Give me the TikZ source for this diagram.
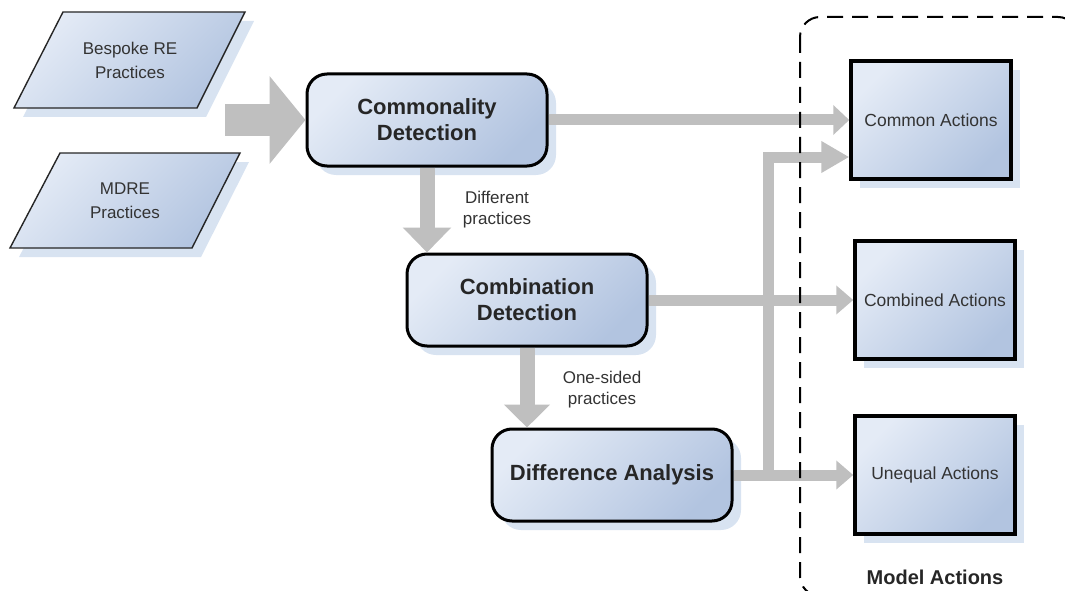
\documentclass[tikz,border=0pt]{standalone}
\usepackage{fontspec}
\setmainfont{Liberation Sans}
\usetikzlibrary{arrows.meta,shadows,calc}
\definecolor{boxlight}{HTML}{E4EBF6}
\definecolor{boxdark}{HTML}{B2C4E0}
\definecolor{shadowblue}{HTML}{D8E3F1}
\definecolor{flowgray}{HTML}{BFBFBF}
\begin{document}
\begin{tikzpicture}[x=1pt,y=-1pt,
  blueshade/.style={top color=boxlight, bottom color=boxdark, shading angle=45},
  softshadow/.style={drop shadow={shadow xshift=9pt, shadow yshift=-9pt, fill=shadowblue, opacity=1}},
  para/.style={draw=black!85, line width=1.4pt, blueshade, softshadow},
  paratext/.style={align=center, font=\fontsize{17}{24}\selectfont, text=black!80},
  proc/.style={draw=black, line width=3pt, rounded corners=20pt, blueshade, softshadow,
    minimum width=240pt, minimum height=92pt, align=center,
    font=\fontsize{22}{26}\selectfont\bfseries, text=black!85},
  actbox/.style={draw=black, line width=3.5pt, blueshade, softshadow,
    minimum width=160pt, minimum height=118pt, align=center,
    font=\fontsize{17.5}{21}\selectfont, text=black!80},
  lbl/.style={align=center, font=\fontsize{17}{21}\selectfont, text=black!80},
  flow/.style={draw=flowgray, line width=11pt},
  groupline/.style={draw=black, line width=2pt, dash pattern=on 16pt off 9pt, rounded corners=20pt}
]
\useasboundingbox (0,0) rectangle (1065,591);
\clip (0,0) rectangle (1065,591);

% input practices
\path[para] (63,12) -- (245,12) -- (197,108) -- (14,108) -- cycle;
\node[paratext] (bespoke) at (130,60) {Bespoke RE\\Practices};
\path[para] (60,153) -- (240,153) -- (192,248) -- (10,248) -- cycle;
\node[paratext] (mdre) at (125,201) {MDRE\\Practices};

% detection steps
\node[proc] (common) at (427,120) {Commonality\\Detection};
\node[proc] (comb) at (527,300) {Combination\\Detection};
\node[proc] (diff) at (612,475) {Difference Analysis};

% resulting actions
\node[actbox] (actcommon) at (931,120) {Common Actions};
\node[actbox] (actcomb) at (935,300) {Combined Actions};
\node[actbox] (actuneq) at (935,475) {Unequal Actions};

% labels on the downward flows
\node[lbl] (lbldiff) at (497,210) {Different\\practices};
\node[lbl] (lblone) at (602,390) {One-sided\\practices};

% flows
\coordinate (src) at (225,120);
\draw[flowgray, line width=32pt, -{Triangle[length=36pt,width=86pt]}] (src) -- (common.west);
\draw[flow, line width=15pt, -{Triangle[length=25pt,width=47pt]}] (common.south) -- (common.south |- comb.north);
\draw[flow, line width=15pt, -{Triangle[length=23pt,width=45pt]}] (comb.south) -- (comb.south |- diff.north);
\draw[flow, -{Triangle[length=16pt,width=29pt]}] (common.east) -- (actcommon.west);
\draw[flow, -{Triangle[length=17pt,width=28pt]}] (comb.east) -- (actcomb.west);
\draw[flow, -{Triangle[length=17pt,width=28pt]}] (diff.east) -- (actuneq.west);
\coordinate (jn) at (768,475);
\coordinate (branch) at ($(actcommon.west)+(0,37)$);
\draw[flow, -{Triangle[length=28pt,width=30pt]}] (diff.east) -- (jn) |- (branch);

% model actions group
\draw[groupline] (800,17) rectangle (1078,596);
\node[font=\fontsize{20}{24}\selectfont\bfseries, text=black!85] (group) at (935,577) {Model Actions};
\end{tikzpicture}
\end{document}
